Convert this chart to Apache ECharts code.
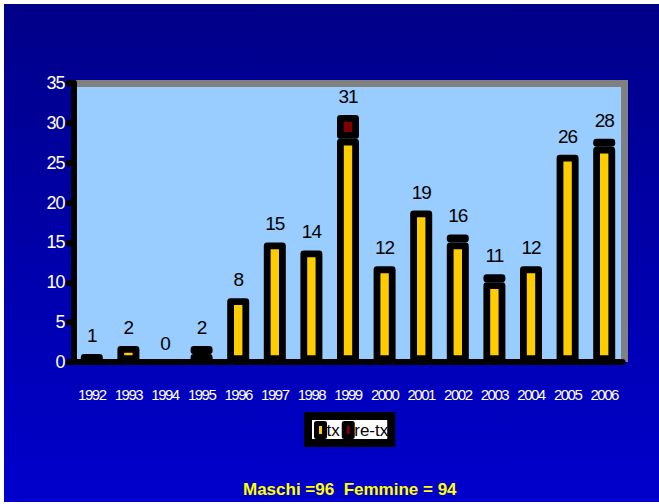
<!DOCTYPE html>
<html>
<head>
<meta charset="utf-8">
<script src="https://cdn.jsdelivr.net/npm/echarts@6/dist/echarts.min.js"></script>
<style>
  html, body { margin: 0; padding: 0; background: #ffffff; }
  #chart { position: absolute; left: 4px; top: 4px; width: 655px; height: 498px; }
  /* tight, condensed-looking numerals */
  #chart text[style*="15px"] { letter-spacing: -1.5px; }
  #chart text[style*="18px"] { letter-spacing: -1px; }
  #chart text[style*="19px"] { letter-spacing: -1px; }
</style>
</head>
<body>
<div id="chart"></div>
<script>
// Trapianti per anno: primo trapianto (tx) e ritrapianto (re-tx)
const years = ['1992', '1993', '1994', '1995', '1996', '1997', '1998', '1999',
               '2000', '2001', '2002', '2003', '2004', '2005', '2006'];
const tx   = [1, 2, 0, 1, 8, 15, 14, 28, 12, 19, 15, 10, 12, 26, 27];
const retx = [0, 0, 0, 1, 0, 0, 0, 3, 0, 0, 1, 1, 0, 0, 1];
const seriesNames = ['tx', 're-tx'];
const yTicks = { min: 0, max: 35, step: 5 };
const footnote = 'Maschi =96  Femmine = 94';

const sans = "'Liberation Sans', Arial, sans-serif";

// empty segments are left without an outline
const asItems = arr => arr.map(v => (v === 0 ? { value: v, itemStyle: { borderWidth: 0 } } : v));

const barStyle = color => ({
  color: color,
  borderColor: '#000000',
  borderWidth: 6.8,
  borderJoin: 'round'
});

const chart = echarts.init(document.getElementById('chart'), null, { renderer: 'svg' });

chart.setOption({
  animation: false,
  backgroundColor: {
    type: 'linear', x: 0, y: 0, x2: 0, y2: 1,
    colorStops: [
      { offset: 0, color: '#000088' },
      { offset: 1, color: '#0000CC' }
    ]
  },
  title: {
    text: footnote,
    left: 239,
    top: 477,
    padding: 0,
    textStyle: {
      color: '#FFFF00',
      fontSize: 17,
      fontWeight: 'bold',
      fontFamily: sans
    }
  },
  // grey wall along the top and right of the plot area
  graphic: [
    { type: 'rect', z: 1, shape: { x: 70, y: 76, width: 554, height: 7, r: [0, 3, 0, 0] },
      style: { fill: '#808080' } },
    { type: 'rect', z: 1, shape: { x: 617, y: 76, width: 7, height: 282 },
      style: { fill: '#808080' } }
  ],
  grid: {
    left: 69.5,
    right: 36.5,
    top: 79,
    bottom: 140,
    show: true,
    backgroundColor: '#99CCFF',
    borderWidth: 0
  },
  legend: {
    data: seriesNames,
    left: 304,
    top: 412,
    backgroundColor: '#ffffff',
    borderColor: '#000000',
    borderWidth: 8,
    padding: [5, 3, 4, 6],
    icon: 'rect',
    itemWidth: 8,
    itemHeight: 13,
    itemGap: 2,
    itemStyle: { borderColor: '#000000', borderWidth: 5 },
    textStyle: { color: '#000000', fontSize: 17, fontFamily: sans, padding: [0, 0, 0, -3] }
  },
  xAxis: {
    type: 'category',
    data: years,
    z: 5,
    axisLine: { lineStyle: { color: '#000000', width: 6, cap: 'round' } },
    axisTick: { length: 5, lineStyle: { color: '#000000', width: 6, cap: 'round' } },
    axisLabel: { interval: 0, margin: 25, color: '#ffffff', fontSize: 15, fontFamily: sans }
  },
  yAxis: {
    type: 'value',
    min: yTicks.min,
    max: yTicks.max,
    interval: yTicks.step,
    z: 5,
    splitLine: { show: false },
    axisLine: { show: true, lineStyle: { color: '#000000', width: 6, cap: 'round' } },
    axisTick: { show: true, length: 5, lineStyle: { color: '#000000', width: 6, cap: 'round' } },
    axisLabel: { margin: 9, color: '#ffffff', fontSize: 18, fontFamily: sans }
  },
  series: [
    {
      name: seriesNames[0],
      type: 'bar',
      stack: 'totale',
      barWidth: 22,
      itemStyle: barStyle('#FFCC00'),
      data: asItems(tx)
    },
    {
      name: seriesNames[1],
      type: 'bar',
      stack: 'totale',
      barWidth: 22,
      itemStyle: barStyle('#800000'),
      label: {
        show: true,
        position: 'top',
        distance: 9,
        color: '#000000',
        fontSize: 19,
        fontFamily: sans,
        formatter: p => String(tx[p.dataIndex] + retx[p.dataIndex])
      },
      data: asItems(retx)
    }
  ]
});
</script>
</body>
</html>
